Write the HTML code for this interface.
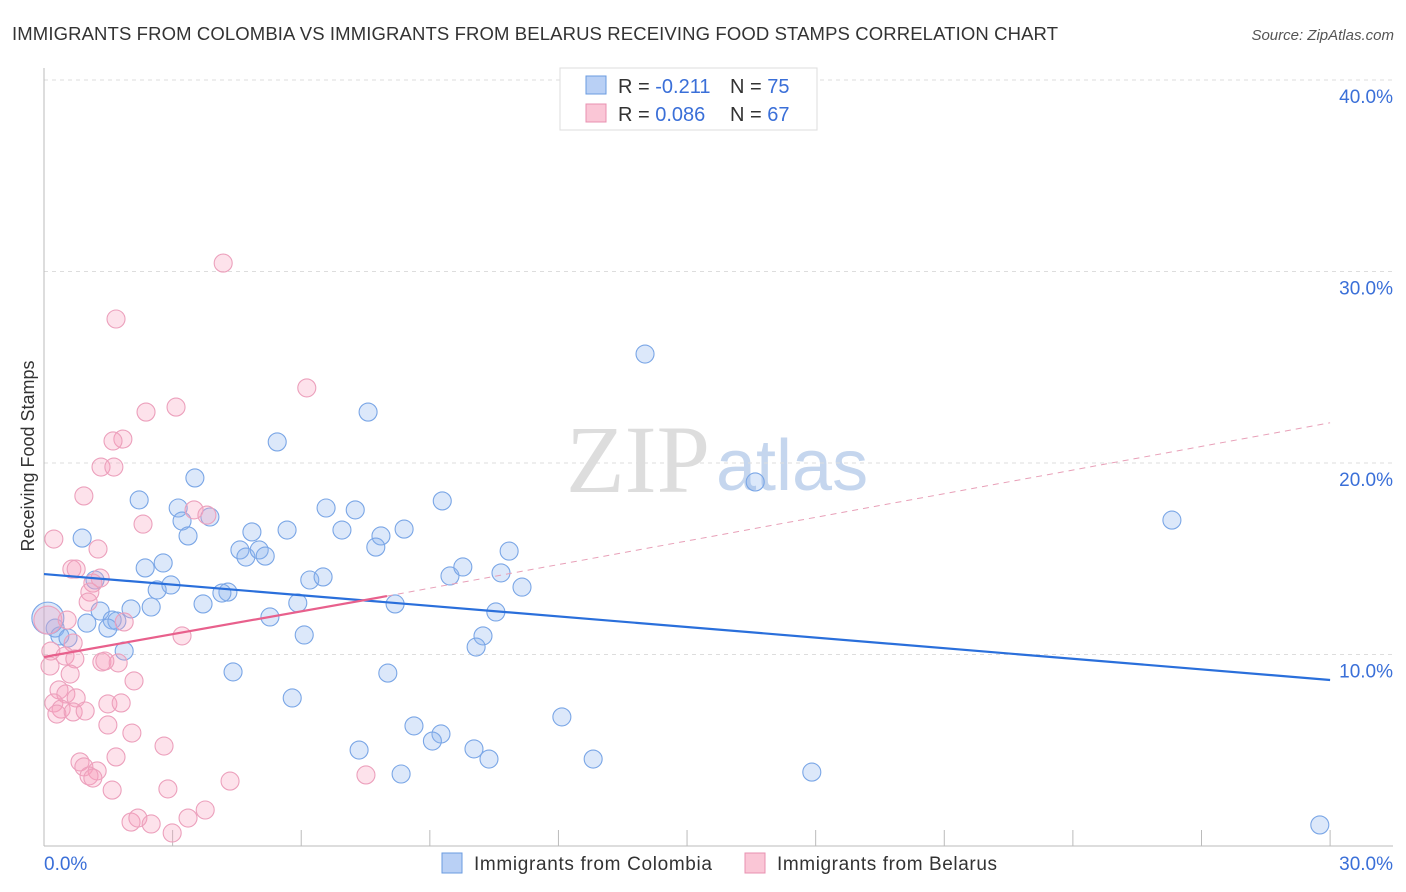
<!DOCTYPE html>
<html><head><meta charset="utf-8"><style>
body{margin:0;background:#fff;font-family:"Liberation Sans",sans-serif;}
svg{display:block}
</style></head><body>
<svg id="chart" width="1406" height="892">
<text x="12" y="40" font-size="18.5" fill="#333" textLength="1046">IMMIGRANTS FROM COLOMBIA VS IMMIGRANTS FROM BELARUS RECEIVING FOOD STAMPS CORRELATION CHART</text>
<text x="1394" y="40" font-size="15" fill="#555" text-anchor="end" font-style="italic">Source: ZipAtlas.com</text>
<text x="34" y="456" font-size="18" fill="#333" text-anchor="middle" transform="rotate(-90 34 456)">Receiving Food Stamps</text>
<text x="710" y="492" font-size="96" fill="#ddd" text-anchor="end" font-family="Liberation Serif,serif">ZIP</text>
<text x="716" y="490" font-size="72" fill="#c5d6ee">atlas</text>
<g id="grid"></g><g id="axes"></g><g id="pts"></g><g id="lines"></g>
<g>
<rect x="560" y="68" width="257" height="62" fill="#fff" stroke="#ddd"/>
<rect x="586" y="76" width="20" height="18" fill="#b9d0f5" stroke="#6a9be0"/>
<rect x="586" y="104" width="20" height="18" fill="#fac6d6" stroke="#e890b0"/>
<text x="618" y="93" font-size="20" fill="#333">R = <tspan fill="#3a6fd8">-0.211</tspan></text>
<text x="730" y="93" font-size="20" fill="#333">N = <tspan fill="#3a6fd8">75</tspan></text>
<text x="618" y="121" font-size="20" fill="#333">R = <tspan fill="#3a6fd8">0.086</tspan></text>
<text x="730" y="121" font-size="20" fill="#333">N = <tspan fill="#3a6fd8">67</tspan></text>
</g>
<g>
<rect x="442" y="853" width="20" height="20" fill="#b9d0f5" stroke="#6a9be0"/>
<text x="474" y="870" font-size="19" fill="#333" textLength="238">Immigrants from Colombia</text>
<rect x="745" y="853" width="20" height="20" fill="#fac6d6" stroke="#e890b0"/>
<text x="777" y="870" font-size="19" fill="#333" textLength="220">Immigrants from Belarus</text>
</g>
<text x="44" y="870" font-size="19" fill="#3a6fd8">0.0%</text>
<text x="1393" y="870" font-size="19" fill="#3a6fd8" text-anchor="end">30.0%</text>
</svg>
<script>
const colX=[14.02,7.56,5.44,16.59,26.31,2.22,3.52,0.89,3.13,3.22,3.87,3.36,4.85,5.67,6.58,7.26,6.95,7.86,7.74,8.40,9.29,4.57,4.71,5.02,5.16,2.78,2.36,6.20,6.51,9.47,9.77,10.85,10.66,11.15,1.19,2.96,2.64,4.29,4.15,2.50,2.03,1.31,3.71,5.92,5.27,8.19,10.54,1.00,1.59,1.70,1.49,0.26,0.37,0.56,6.07,10.24,10.08,1.87,4.41,8.02,5.79,12.08,8.63,9.26,9.06,10.03,7.35,10.38,12.81,8.33,17.91,29.76,0.09];
const colY=[25.69,22.66,21.10,19.01,17.02,18.07,19.22,16.08,17.65,16.97,17.18,16.19,16.40,16.50,17.65,17.55,16.50,16.19,15.61,16.55,18.02,15.46,15.09,15.46,15.14,14.78,14.52,13.89,14.05,14.10,14.57,15.40,14.26,13.52,13.89,13.63,13.37,13.26,13.21,12.48,12.38,12.27,12.64,12.69,11.96,12.64,12.22,11.64,11.80,11.75,11.38,11.38,10.97,10.86,11.02,10.97,10.39,10.18,9.09,9.03,7.73,6.74,6.27,5.85,5.48,5.07,5.01,4.54,4.54,3.76,3.86,1.10,11.9];
const belX=[4.18,1.68,6.13,3.08,2.38,1.84,1.61,1.33,1.63,0.93,0.23,2.31,3.50,3.80,1.26,0.65,0.75,1.31,1.14,1.07,1.03,0.09,0.54,1.87,3.22,0.68,0.16,0.49,0.72,1.35,1.73,1.42,0.14,0.61,2.10,0.35,0.51,0.75,0.23,0.40,0.30,0.68,0.96,1.49,1.80,1.49,2.05,2.80,1.68,0.84,0.93,1.24,1.05,1.14,4.34,7.51,1.59,2.89,3.76,2.03,2.19,2.50,3.36,2.99];
const belY=[30.44,27.52,23.92,22.92,22.66,21.25,21.15,19.79,19.79,18.28,16.03,16.81,17.55,17.28,15.51,14.46,14.46,13.99,13.73,13.26,12.74,11.80,11.80,11.70,10.97,10.60,10.18,9.92,9.77,9.61,9.56,9.66,9.40,8.98,8.62,8.15,7.94,7.73,7.47,7.15,6.89,7.00,7.05,7.42,7.47,6.32,5.90,5.22,4.65,4.39,4.13,3.92,3.66,3.55,3.39,3.71,2.92,2.98,1.88,1.25,1.46,1.15,1.46,0.68];
const yTicks=[10,20,30,40];
const yTickLabels=["10.0%","20.0%","30.0%","40.0%"];
const xTickVals=[3,6,9,12,15,18,21,24,27,30];
const colTrend=[14.2,8.67];
const belTrend=[9.87,13.05,22.1];
const NS="http://www.w3.org/2000/svg";
const X=v=>44+v*42.87, Y=v=>846-v*19.15;
function mk(tag,attrs,parent){const e=document.createElementNS(NS,tag);for(const k in attrs)e.setAttribute(k,attrs[k]);document.getElementById(parent).appendChild(e);return e;}
yTicks.forEach((t,i)=>{
 const g=mk('line',{x1:44,x2:1393,y1:Y(t),y2:Y(t),stroke:'#ddd','stroke-dasharray':'4,4'},'grid');
 
 
 const tx=mk('text',{x:1393,y:Y(t)+23,'font-size':19,fill:'#3a6fd8','text-anchor':'end'},'grid');
 tx.textContent=yTickLabels[i];
 
 
});
const ax=mk('line',{x1:44,x2:44,y1:68,y2:846,stroke:'#bbb'},'axes');


const bx=mk('line',{x1:44,x2:1393,y1:846,y2:846,stroke:'#bbb'},'axes');


xTickVals.forEach(t=>{
 const l=mk('line',{x1:X(t),x2:X(t),y1:830,y2:846,stroke:'#bbb'},'axes');
 
 
});
colX.forEach((v,i)=>{
 const c=mk('circle',{cx:X(v),cy:Y(colY[i]),r:i==colX.length-1?16:9,fill:'rgba(140,180,240,0.3)',stroke:'#7aa6e6','stroke-width':1.1},'pts');
 
 
});
belX.forEach((v,i)=>{
 const c=mk('circle',{cx:X(v),cy:Y(belY[i]),r:i==21?14:9,fill:'rgba(248,160,190,0.3)',stroke:'#eca0bc','stroke-width':1.1},'pts');
 
 
});
const cl=mk('line',{x1:X(0),y1:Y(colTrend[0]),x2:X(30),y2:Y(colTrend[1]),stroke:'#2a6fdb','stroke-width':2.2},'lines');


const bd=mk('line',{x1:X(8),y1:Y(belTrend[1]),x2:X(30),y2:Y(belTrend[2]),stroke:'#e8a0b8','stroke-width':1,'stroke-dasharray':'6,5'},'lines');


const bl=mk('line',{x1:X(0),y1:Y(belTrend[0]),x2:X(8),y2:Y(belTrend[1]),stroke:'#e8608c','stroke-width':2.2},'lines');


</script>
</body></html>
